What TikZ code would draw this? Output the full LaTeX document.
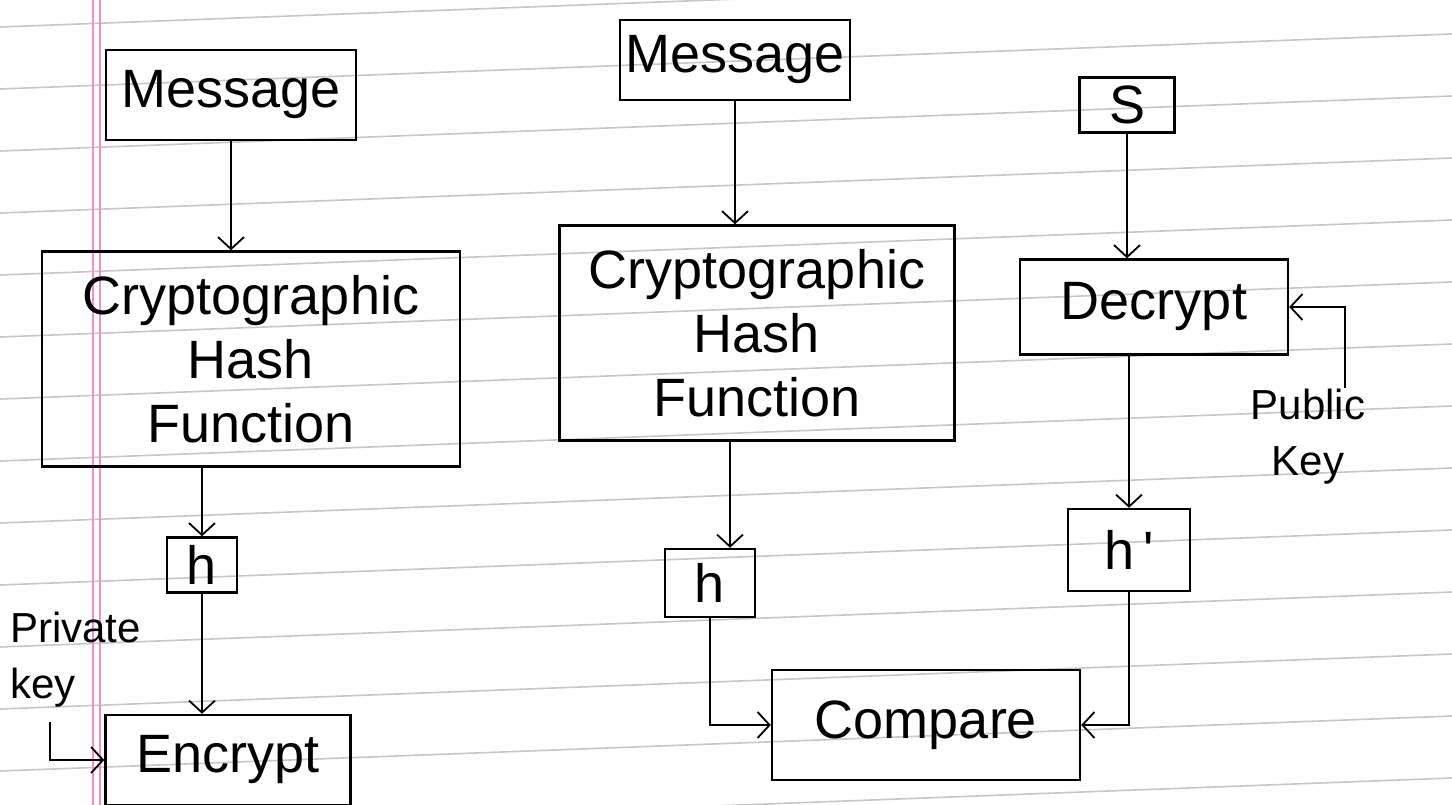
\documentclass[tikz,border=0pt]{standalone}
\usepackage{fontspec}
\setmainfont{Liberation Sans}
\usetikzlibrary{arrows.meta}
\tikzset{
  box/.style={draw=black, line width=2.4pt, inner sep=0pt, align=center,
    font=\fontsize{54}{64}\selectfont},
  lbl/.style={inner sep=0pt, font=\fontsize{42}{56}\selectfont},
  arr/.style={draw=black, line width=1.8pt, -{Straight Barb[length=12pt,width=26pt,line width=1.8pt]}},
  ruled/.style={draw=black!22, line width=1.6pt},
  margin/.style={draw=magenta!45, line width=1.4pt}
}
\begin{document}
\begin{tikzpicture}[x=1pt,y=-1pt]
\fill[white] (0,0) rectangle (1452,805);
\useasboundingbox (0,0) rectangle (1452,805);
% ruled paper
\foreach \yy in {27,89,151,213,275,337,399,461,523,585,647,709,771,833}
  \draw[ruled] (0,\yy) -- (1452,\yy-55);
\draw[margin] (93,0) -- (93,805);
\draw[margin] (100,0) -- (100,805);
% nodes
\node[box, minimum width=250pt, minimum height=90pt] (msg1) at (231,95) {Message};
\node[box, minimum width=230pt, minimum height=80pt] (msg2) at (735,60) {Message};
\node[box, minimum width=95pt, minimum height=55pt] (s) at (1127,105) {S};
\node[box, minimum width=418pt, minimum height=215pt] (chf1) at (251,359) {Cryptographic\\Hash\\Function};
\node[box, minimum width=395pt, minimum height=215pt] (chf2) at (757,333) {Cryptographic\\Hash\\Function};
\node[box, minimum width=268pt, minimum height=95pt] (dec) at (1154,307) {Decrypt};
\node[box, minimum width=70pt, minimum height=55pt] (h1) at (202,565) {h};
\node[box, minimum width=90pt, minimum height=68pt] (h2) at (710,583) {h};
\node[box, minimum width=122pt, minimum height=82pt] (hp) at (1129,550) {h\,\textquotesingle};
\node[box, minimum width=245pt, minimum height=90pt] (enc) at (228,760) {Encrypt};
\node[box, minimum width=308pt, minimum height=110pt] (cmp) at (926,725) {Compare};
\node[lbl, align=left, anchor=west] (pk) at (10,660) {Private\\key};
\node[lbl, align=center] (pub) at (1308,437) {Public\\Key};
\coordinate (pkc) at (50,722);
\coordinate (pubc) at (1345,388);
% connectors
\draw[arr] (msg1.south) -- (msg1.south |- chf1.north);
\draw[arr] (msg2.south) -- (msg2.south |- chf2.north);
\draw[arr] (s.south) -- (s.south |- dec.north);
\draw[arr] (chf1.south -| h1) -- (h1.north);
\draw[arr] (chf2.south -| 730,0) -- (h2.north -| 730,0);
\draw[arr] (dec.south -| hp) -- (hp.north);
\draw[arr] (h1.south) -- (h1.south |- enc.north);
\draw[arr] (pkc) |- (enc.west);
\draw[arr] (pubc) |- (dec.east);
\draw[arr] (h2.south) |- (cmp.west);
\draw[arr] (hp.south) |- (cmp.east);
\end{tikzpicture}
\end{document}
